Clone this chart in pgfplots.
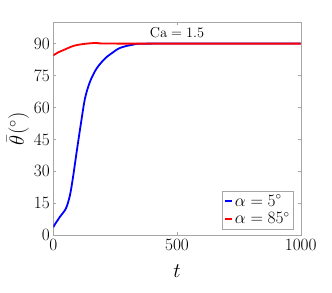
\documentclass[border=0pt]{standalone}
\usepackage{pgfplots}
\pgfplotsset{compat=1.18}

\begin{document}
\begin{tikzpicture}
  \begin{axis}[
      scale only axis,
      width=247.4pt,
      height=213pt,
      xmin=0, xmax=1000,
      ymin=0, ymax=100,
      xtick={0,500,1000},
      ytick={0,15,30,45,60,75,90},
      scaled x ticks=false,
      xticklabel style={/pgf/number format/1000 sep={}, yshift=-1pt},
      tick align=inside,
      major tick length=3pt,
      axis line style={gray!70},
      tick style={gray!70, line width=0.4pt},
      tick label style={font=\fontsize{16.5}{18}\selectfont},
      xlabel={$t$},
      ylabel={$\bar{\theta}(^\circ)$},
      xlabel style={font=\fontsize{22}{24}\selectfont, yshift=-7pt},
      ylabel style={font=\fontsize{22}{24}\selectfont, yshift=-2pt},
      legend style={
        at={(0.97,0.03)}, anchor=south east,
        draw=gray!70, font=\fontsize{16}{18}\selectfont,
        inner sep=1.5pt, row sep=1pt
      },
      legend cell align=left,
      legend image code/.code={\draw[#1] (0pt,0pt) -- (7pt,0pt);},
    ]
    \addplot[blue, line width=1.8pt, smooth] coordinates {
      (0,3.8) (3,4.5) (27,8.7) (51,12.6) (67.5,18.9) (81,28.3)
      (94.5,39.2) (110.6,51.7) (128,64.2) (148,72) (175,78.3)
      (209,83) (242.5,86) (270,88) (323,89.5) (400,90) (1000,90)
    };
    \addlegendentry{$\alpha=5^\circ$}
    \addplot[red, line width=1.8pt, smooth] coordinates {
      (0,84.5) (20,85.9) (40,86.9) (81,88.9) (121,89.8) (175,90.3)
      (256,90) (1000,90)
    };
    \addlegendentry{$\alpha=85^\circ$}
    \node[font=\fontsize{15}{17}\selectfont] at (axis cs:500,95.3) {$\mathrm{Ca}=1.5$};
  \end{axis}
  \pgfresetboundingbox
  \path ([shift={(-53.3pt,-56.7pt)}]current axis.south west)
    rectangle ([shift={(31.3pt,22.3pt)}]current axis.north east);
\end{tikzpicture}
\end{document}
